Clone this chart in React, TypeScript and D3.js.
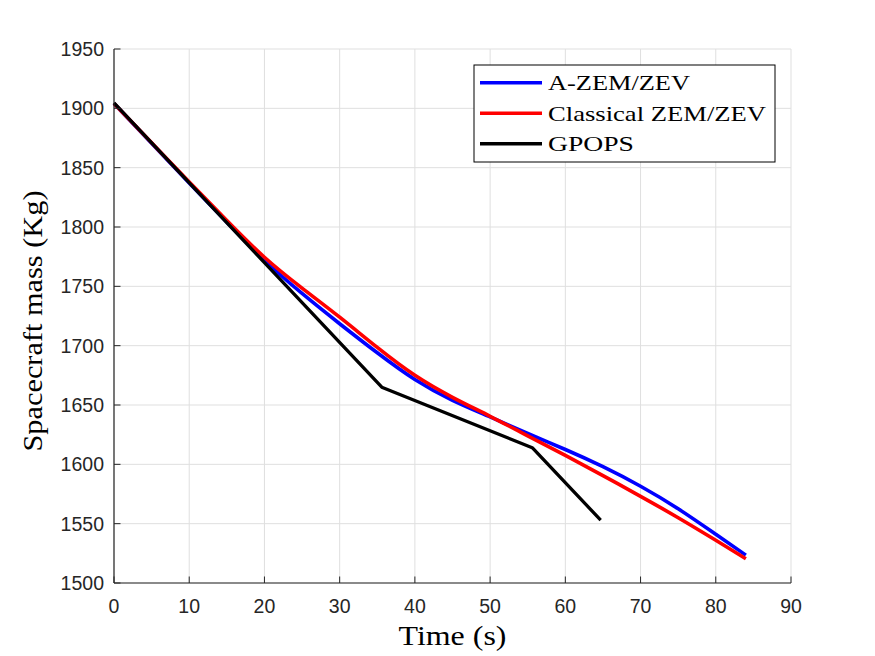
import React from 'react';
import * as d3 from 'd3';

// values
const timeA = [0, 5, 10, 15, 20, 25, 30, 35, 40, 45, 50, 55, 60, 65, 70, 75, 80, 84];
const massAZem = [1904, 1870.5, 1837, 1804, 1772, 1744, 1718.5, 1694, 1671.5, 1654, 1640, 1626, 1612.5, 1598, 1581.5, 1562.5, 1541, 1523.5];
const massClassical = [1904, 1871, 1838, 1805.5, 1774.5, 1748.5, 1724, 1698.5, 1675, 1656.5, 1640.5, 1624, 1607.5, 1590.5, 1573, 1555, 1536, 1520.5];
const timeGpops = [0, 35.6, 55.6, 64.7];
const massGpops = [1904.5, 1665, 1614, 1553];

const xTicks = [0, 10, 20, 30, 40, 50, 60, 70, 80, 90];
const yTicks = [1500, 1550, 1600, 1650, 1700, 1750, 1800, 1850, 1900, 1950];

const seriesNames = ['A-ZEM/ZEV', 'Classical ZEM/ZEV', 'GPOPS'];
const seriesColors = ['#0000ff', '#ff0000', '#000000'];

const W = 875;
const H = 656;
const margin = {top: 49, right: 84, bottom: 73, left: 114};

export default function App() {
    const innerW = W - margin.left - margin.right;
    const innerH = H - margin.top - margin.bottom;

    const x = d3.scaleLinear().domain([0, 90]).range([0, innerW]);
    const y = d3.scaleLinear().domain([1500, 1950]).range([innerH, 0]);

    const smooth = d3.line<[number, number]>()
        .x(d => x(d[0]))
        .y(d => y(d[1]))
        .curve(d3.curveNatural);
    const straight = d3.line<[number, number]>()
        .x(d => x(d[0]))
        .y(d => y(d[1]));

    const series = [
        {d: smooth(timeA.map((t, i) => [t, massAZem[i]] as [number, number])), w: 3.6},
        {d: smooth(timeA.map((t, i) => [t, massClassical[i]] as [number, number])), w: 3.6},
        {d: straight(timeGpops.map((t, i) => [t, massGpops[i]] as [number, number])), w: 3.3},
    ];

    const axisColor = '#262626';
    const tickFont = '"Liberation Sans", Arial, sans-serif';
    const serif = '"Liberation Serif", "Times New Roman", serif';

    const leg = {x: 474 - margin.left, y: 65 - margin.top, w: 301, h: 97};
    const legTextLen = [142, 218, 86];

    return (
        <svg width={W} height={H} style={{position: 'absolute', left: 0, top: 0, background: '#fff'}}>
            <g transform={`translate(${margin.left},${margin.top})`}>
                {/* grid */}
                {xTicks.map(t => (
                    <line key={'gx' + t} x1={x(t)} x2={x(t)} y1={0} y2={innerH} stroke="#dfdfdf" strokeWidth={1}/>
                ))}
                {yTicks.map(t => (
                    <line key={'gy' + t} x1={0} x2={innerW} y1={y(t)} y2={y(t)} stroke="#dfdfdf" strokeWidth={1}/>
                ))}

                {/* data */}
                {series.map((s, i) => (
                    <path key={i} d={s.d || ''} fill="none" stroke={seriesColors[i]} strokeWidth={s.w}
                          strokeLinejoin="round"/>
                ))}

                {/* axes */}
                <line x1={0} x2={innerW} y1={innerH} y2={innerH} stroke={axisColor} strokeWidth={1.2}/>
                <line x1={0} x2={0} y1={0} y2={innerH} stroke={axisColor} strokeWidth={1.2}/>
                {xTicks.map(t => (
                    <g key={'tx' + t}>
                        <line x1={x(t)} x2={x(t)} y1={innerH} y2={innerH - 6.5} stroke={axisColor}/>
                        <text x={x(t)} y={innerH + 30} textAnchor="middle" fontFamily={tickFont}
                              fontSize={19.5} fill={axisColor}>{t}</text>
                    </g>
                ))}
                {yTicks.map(t => (
                    <g key={'ty' + t}>
                        <line x1={0} x2={6.5} y1={y(t)} y2={y(t)} stroke={axisColor}/>
                        <text x={-10} y={y(t)} dy="0.36em" textAnchor="end" fontFamily={tickFont}
                              fontSize={19.5} fill={axisColor}>{t}</text>
                    </g>
                ))}

                {/* axis labels */}
                <text x={innerW / 2} y={innerH + 62} textAnchor="middle" fontFamily={serif} fontSize={28}
                      textLength={108} lengthAdjust="spacingAndGlyphs" fill="#000">Time (s)</text>
                <text transform={`translate(${-72},${272}) rotate(-90)`} textAnchor="middle"
                      fontFamily={serif} fontSize={28} textLength={261} lengthAdjust="spacingAndGlyphs"
                      fill="#000">Spacecraft mass (Kg)</text>

                {/* legend */}
                <rect x={leg.x} y={leg.y} width={leg.w} height={leg.h} fill="#fff" stroke="#000" strokeWidth={1}/>
                {seriesNames.map((name, i) => {
                    const cy = leg.y + 17.7 + i * 30.5;
                    return (
                        <g key={name}>
                            <line x1={leg.x + 6} x2={leg.x + 68} y1={cy} y2={cy} stroke={seriesColors[i]}
                                  strokeWidth={3.6}/>
                            <text x={leg.x + 74} y={cy} dy="0.35em" fontFamily={serif} fontSize={21.5}
                                  textLength={legTextLen[i]} lengthAdjust="spacingAndGlyphs"
                                  fill="#000">{name}</text>
                        </g>
                    );
                })}
            </g>
        </svg>
    );
}
